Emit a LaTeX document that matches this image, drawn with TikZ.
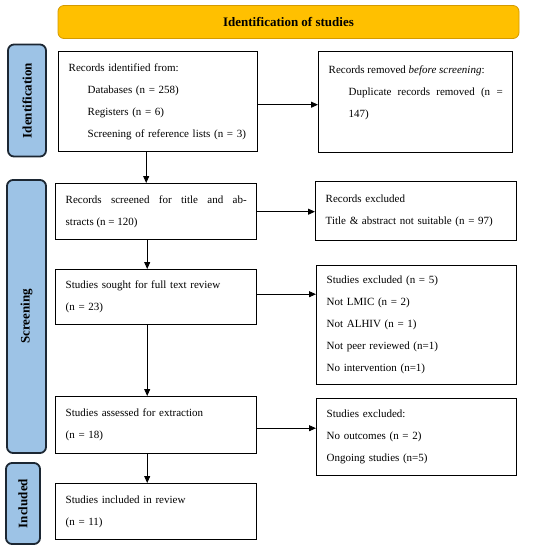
\documentclass[tikz,border=0pt]{standalone}
\usepackage{fontspec}
\setmainfont{Liberation Serif}
\usetikzlibrary{arrows.meta,calc}
\definecolor{bannerfill}{HTML}{FFC000}
\definecolor{bannerline}{HTML}{D49A00}
\definecolor{sidefill}{HTML}{9DC3E6}
\definecolor{sideline}{HTML}{1C2733}
\begin{document}
\begin{tikzpicture}[x=1pt,y=-1pt,
  box/.style={draw=black, line width=1.4pt, inner xsep=10pt, inner ysep=0pt,
    align=left, anchor=north west, font=\fontsize{11}{22}\selectfont},
  jbox/.style={box, align=justify},
  side/.style={draw=sideline, fill=sidefill, line width=1.8pt, rounded corners=6pt,
    rotate=90, inner sep=0pt, font=\fontsize{13}{14}\selectfont\bfseries},
  banner/.style={draw=bannerline, fill=bannerfill, line width=0.8pt, rounded corners=6pt,
    inner sep=0pt, font=\fontsize{13}{14}\selectfont\bfseries},
  arr/.style={line width=0.9pt, -{Triangle[length=7pt,width=6pt]}}]
\useasboundingbox (0,0) rectangle (533,550);

\node[banner, minimum width=461pt, minimum height=33pt] (ban) at (288.5,22) {Identification of studies};

\node[side, minimum width=112pt, minimum height=38pt] (sid) at (27,100.5) {Identification};
\node[side, minimum width=273pt, minimum height=39pt] (sscr) at (26.5,316.5) {Screening};
\node[side, minimum width=81pt, minimum height=34pt] (sinc) at (23,503.5) {Included};

\node[box, text width=179pt, minimum height=100pt] (b1) at (58,51)
 {Records identified from:\\
  \hspace*{19pt}Databases (n = 258)\\
  \hspace*{19pt}Registers (n = 6)\\
  \hspace*{19pt}Screening of reference lists (n = 3)};

\node[jbox, text width=174pt, minimum height=101pt] (b2) at (318,51)
 {Records removed \emph{before screening}:\par
  {\leftskip=20pt Duplicate records removed (n =\linebreak 147)\par}
  \mbox{}};

\node[jbox, text width=181pt, minimum height=56pt] (b3) at (55,183)
 {Records screened for title and ab-\linebreak stracts (n = 120)};

\node[box, text width=181pt, minimum height=59pt] (b4) at (315,181)
 {Records excluded\\ Title \& abstract not suitable (n = 97)};

\node[box, text width=181pt, minimum height=55pt] (b5) at (55,269)
 {Studies sought for full text review\\ (n = 23)};

\node[box, text width=180pt, minimum height=119pt] (b6) at (316,265)
 {Studies excluded (n = 5)\\ Not LMIC (n = 2)\\ Not ALHIV (n = 1)\\
  Not peer reviewed (n=1)\\ No intervention (n=1)};

\node[box, text width=181pt, minimum height=57pt] (b7) at (55,396)
 {Studies assessed for extraction\\ (n = 18)};

\node[box, text width=180pt, minimum height=77pt] (b8) at (316,398)
 {Studies excluded:\\ No outcomes (n = 2)\\ Ongoing studies (n=5)};

\node[box, text width=181pt, minimum height=56pt] (b9) at (55,483)
 {Studies included in review\\ (n = 11)};

\draw[arr] ([yshift=-3pt]b1.east) -- ([yshift=-3pt]b1.east -| b2.west);
\draw[arr] (b3.east) -- (b3.east -| b4.west);
\draw[arr] ([yshift=3pt]b5.east) -- ([yshift=3pt]b5.east -| b6.west);
\draw[arr] ([yshift=-3pt]b7.east) -- ([yshift=-3pt]b7.east -| b8.west);

\draw[arr] ([xshift=-12pt]b1.south) -- ([xshift=-12pt]b1.south |- b3.north);
\draw[arr] ([xshift=-9pt]b3.south) -- ([xshift=-9pt]b3.south |- b5.north);
\draw[arr] ([xshift=-9pt]b5.south) -- ([xshift=-9pt]b5.south |- b7.north);
\draw[arr] ([xshift=-9pt]b7.south) -- ([xshift=-9pt]b7.south |- b9.north);
\end{tikzpicture}
\end{document}
